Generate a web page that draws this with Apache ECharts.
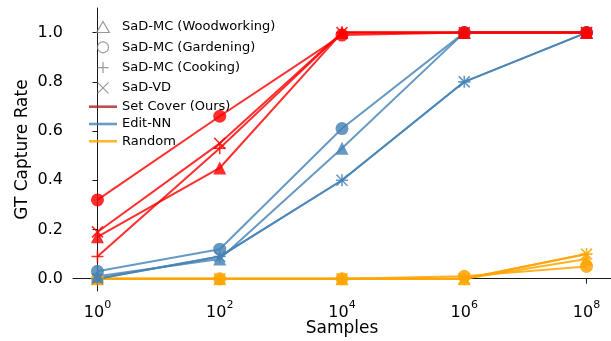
<!DOCTYPE html>
<html>
<head>
<meta charset="utf-8">
<script src="https://cdn.jsdelivr.net/npm/echarts@6/dist/echarts.min.js"></script>
<style>
  html, body { margin: 0; padding: 0; background: #fff; }
  #chart { width: 611px; height: 341px; }
</style>
</head>
<body>
<div id="chart"></div>
<script>
// x positions are log10(samples)
const samplesExp = [0, 2, 4, 6, 8];
const yTicks = [0, 0.2, 0.4, 0.6, 0.8, 1.0];
const datasets = ['SaD-MC (Woodworking)', 'SaD-MC (Gardening)', 'SaD-MC (Cooking)', 'SaD-VD'];
const methods = ['Set Cover (Ours)', 'Edit-NN', 'Random'];

// Set Cover (Ours)
const setCoverWood = [0.17, 0.45, 1.0, 1.0, 1.0];
const setCoverGarden = [0.32, 0.66, 0.99, 1.0, 1.0];
const setCoverCook = [0.09, 0.53, 1.0, 1.0, 1.0];
const setCoverVD = [0.19, 0.55, 1.0, 1.0, 1.0];
// Edit-NN
const editNNWood = [0.01, 0.08, 0.53, 1.0, 1.0];
const editNNGarden = [0.03, 0.12, 0.61, 1.0, 1.0];
const editNNCook = [0.0, 0.09, 0.40, 0.80, 1.0];
const editNNVD = [0.0, 0.09, 0.40, 0.80, 1.0];
// Random
const randomWood = [0.0, 0.0, 0.0, 0.0, 0.08];
const randomGarden = [0.0, 0.0, 0.0, 0.01, 0.05];
const randomCook = [0.0, 0.0, 0.0, 0.0, 0.10];
const randomVD = [0.0, 0.0, 0.0, 0.0, 0.10];

const font = 'DejaVu Sans';
const plusPath = 'path://M5,0V10M0,5H10';
const crossPath = 'path://M0,0L10,10M10,0L0,10';
const triPath = 'path://M5,0L10,8.66L0,8.66Z';

// marker per dataset
const markers = [
  { symbol: 'triangle', size: 13, stroke: false },
  { symbol: 'circle', size: 13, stroke: false },
  { symbol: plusPath, size: 12, stroke: true },
  { symbol: crossPath, size: 11, stroke: true }
];

function makeSeries(name, values, color, mk) {
  return {
    name: name,
    type: 'line',
    data: samplesExp.map((x, i) => [x, values[i]]),
    symbol: mk.symbol,
    symbolSize: mk.size,
    showSymbol: true,
    color: color,
    lineStyle: { color: color, width: 2 },
    itemStyle: {
      color: color,
      borderColor: color,
      borderWidth: mk.stroke ? 1.6 : 0
    },
    emphasis: { disabled: true },
    silent: true
  };
}

const red = 'rgba(255,0,0,0.82)';
const blue = 'rgba(70,130,180,0.82)';
const orange = 'rgba(255,165,0,0.85)';

const groups = [
  [orange, [randomWood, randomGarden, randomCook, randomVD]],
  [blue, [editNNWood, editNNGarden, editNNCook, editNNVD]],
  [red, [setCoverWood, setCoverGarden, setCoverCook, setCoverVD]]
];

let series = [];
groups.forEach(g => {
  g[1].forEach((vals, i) => {
    series.push(makeSeries('_' + g[0] + i, vals, g[0], markers[i]));
  });
});

// empty series just for the legend
const gray = '#7f7f7f';
const legendItems = [
  { name: datasets[0], icon: triPath, itemStyle: { color: 'none', borderColor: gray, borderWidth: 1.2 } },
  { name: datasets[1], icon: 'circle', itemStyle: { color: 'none', borderColor: gray, borderWidth: 1.2 } },
  { name: datasets[2], icon: plusPath, itemStyle: { color: 'none', borderColor: gray, borderWidth: 1.2 } },
  { name: datasets[3], icon: crossPath, itemStyle: { color: 'none', borderColor: gray, borderWidth: 1.2 } },
  { name: methods[0], icon: 'path://M0,0H28V2.6H0Z', itemStyle: { color: '#b22222', borderWidth: 0 } },
  { name: methods[1], icon: 'path://M0,0H28V2.6H0Z', itemStyle: { color: '#4682b4', borderWidth: 0 } },
  { name: methods[2], icon: 'path://M0,0H28V2.6H0Z', itemStyle: { color: '#ffa500', borderWidth: 0 } }
];
legendItems.forEach(it => {
  series.push({ name: it.name, type: 'scatter', data: [], itemStyle: it.itemStyle });
});

let myChart = echarts.init(document.getElementById('chart'));
let option = {
  animation: false,
  grid: { left: 73, right: 0, top: 8, bottom: 50, outerBoundsMode: 'none' },
  legend: {
    data: legendItems,
    orient: 'vertical',
    left: 84,
    top: 14,
    itemWidth: 28,
    itemHeight: 11,
    itemGap: 4.3,
    symbolKeepAspect: true,
    selectedMode: false,
    textStyle: { fontFamily: font, fontSize: 13, color: '#000', padding: [0, 0, 0, 0] }
  },
  xAxis: {
    type: 'value',
    min: -0.4,
    max: 8.4,
    name: 'Samples',
    nameLocation: 'middle',
    nameGap: 29,
    nameMoveOverlap: false,
    nameTextStyle: { fontFamily: font, fontSize: 17, color: '#000' },
    axisLine: { show: true, lineStyle: { color: '#000', width: 0.9 } },
    axisTick: { show: true, length: 5, customValues: samplesExp, lineStyle: { color: '#000', width: 0.9 } },
    axisLabel: {
      customValues: samplesExp,
      margin: 9,
      formatter: v => '{b|10}{s|' + v + '}',
      rich: {
        b: { fontFamily: font, fontSize: 16, color: '#000', lineHeight: 21, verticalAlign: 'bottom' },
        s: { fontFamily: font, fontSize: 11, color: '#000', lineHeight: 21, verticalAlign: 'top' }
      }
    },
    splitLine: { show: false }
  },
  yAxis: {
    type: 'value',
    min: -0.05,
    max: 1.1,
    name: 'GT Capture Rate',
    nameLocation: 'middle',
    nameGap: 42,
    nameMoveOverlap: false,
    nameTextStyle: { fontFamily: font, fontSize: 17, color: '#000' },
    axisLine: { show: true, lineStyle: { color: '#000', width: 0.9 } },
    axisTick: { show: true, length: 5, customValues: yTicks, lineStyle: { color: '#000', width: 0.9 } },
    axisLabel: {
      customValues: yTicks,
      margin: 10,
      fontFamily: font,
      fontSize: 16,
      color: '#000',
      formatter: v => v.toFixed(1)
    },
    splitLine: { show: false }
  },
  series: series
};

myChart.setOption(option);
</script>
</body>
</html>
